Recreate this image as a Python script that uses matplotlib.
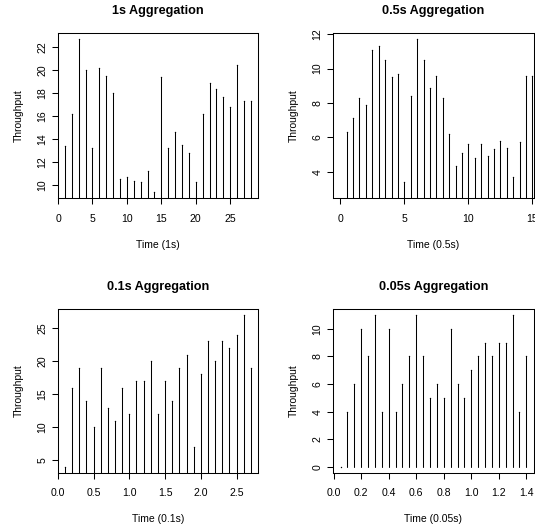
import numpy as np
import matplotlib
matplotlib.use('Agg')
import matplotlib.pyplot as plt

plt.rcParams['font.family'] = ['Liberation Sans', 'DejaVu Sans']

# ---- data ----
t1 = np.arange(1, 29)
v1 = [13.4, 16.2, 22.7, 20.0, 13.2, 20.2, 19.5, 18.0, 10.5, 10.7, 10.4, 10.3,
      11.2, 9.4, 19.4, 13.2, 14.6, 13.5, 12.8, 10.3, 16.2, 18.9, 18.4, 17.7,
      16.8, 20.5, 17.3, 17.3]

t2 = np.arange(1, 31) * 0.5
v2 = [6.3, 7.1, 8.3, 7.9, 11.1, 11.3, 10.5, 9.5, 9.7, 3.4, 8.4, 11.7, 10.5,
      8.9, 9.6, 8.3, 6.2, 4.3, 5.1, 5.6, 4.8, 5.6, 4.9, 5.3, 5.8, 5.4, 3.7,
      5.7, 9.6, 9.6]

t3 = np.arange(1, 28) * 0.1
v3 = [4, 16, 19, 14, 10, 19, 13, 11, 16, 12, 17, 17, 20, 12, 17, 14, 19, 21,
      7, 18, 23, 20, 23, 22, 24, 27, 19]

t4 = np.arange(1, 29) * 0.05
v4 = [0, 4, 6, 10, 8, 11, 4, 10, 4, 6, 8, 11, 8, 5, 6, 5, 10, 6, 5, 7, 8, 9,
      8, 9, 9, 11, 4, 8]

titles = ['1s Aggregation', '0.5s Aggregation', '0.1s Aggregation', '0.05s Aggregation']
xlabels = ['Time (1s)', 'Time (0.5s)', 'Time (0.1s)', 'Time (0.05s)']
xticks = [[0, 5, 10, 15, 20, 25], [0, 5, 10, 15],
          [0.0, 0.5, 1.0, 1.5, 2.0, 2.5], [0.0, 0.2, 0.4, 0.6, 0.8, 1.0, 1.2, 1.4]]
xticklabels = [['0', '5', '10', '15', '20', '25'], ['0', '5', '10', '15'],
               ['0.0', '0.5', '1.0', '1.5', '2.0', '2.5'],
               ['0.0', '0.2', '0.4', '0.6', '0.8', '1.0', '1.2', '1.4']]
yticks = [[10, 12, 14, 16, 18, 20, 22], [4, 6, 8, 10, 12],
          [5, 10, 15, 20, 25], [0, 2, 4, 6, 8, 10]]

W, H = 535, 526
fig = plt.figure(figsize=(W / 100, H / 100), dpi=100)

# axes boxes in pixels: left, right, top, bottom
boxes = [(57.5, 258.3, 33.3, 198.2),
         (333.1, 533.8, 33.3, 198.2),
         (57.5, 258.3, 309.0, 473.0),
         (333.1, 533.8, 309.0, 473.0)]


def rlim(vals):
    lo, hi = min(vals), max(vals)
    r = hi - lo
    return lo - 0.04 * r, hi + 0.04 * r


series = [(t1, v1), (t2, v2), (t3, v3), (t4, v4)]
xlims = [rlim(t1), (-0.56, 15.11), rlim(t3), rlim(t4)]
ylims = [rlim(v1), (2.45, 12.06), rlim(v3), rlim(v4)]

lw = 0.75
for i, ((t, v), (l, r, tp, b)) in enumerate(zip(series, boxes)):
    ax = fig.add_axes([l / W, 1 - b / H, (r - l) / W, (b - tp) / H])
    ax.vlines(t, 0, v, colors='black', linewidth=lw, capstyle='round')
    # round line ends (R type="h"), visible as a dot for zero-height values
    ax.plot(t, v, linestyle='none', marker='o', markersize=1.0,
            markeredgewidth=0, color='black')
    ax.set_xlim(*xlims[i])
    ax.set_ylim(*ylims[i])
    for s in ax.spines.values():
        s.set_linewidth(lw)
        s.set_color('black')
    ax.set_xticks(xticks[i])
    ax.set_xticklabels(xticklabels[i])
    ax.set_yticks(yticks[i])
    ax.set_yticklabels([str(y) for y in yticks[i]])
    ax.tick_params(direction='out', length=4.3, width=lw, labelsize=7.6,
                   colors='black')
    ax.tick_params(axis='x', pad=6.8)
    ax.tick_params(axis='y', pad=3.2, labelrotation=90)
    for lab in ax.get_yticklabels():
        lab.set_va('center')
    hpx = b - tp
    wpx = r - l
    ax.set_xlabel(xlabels[i], fontsize=7.5)
    ax.xaxis.set_label_coords(0.5, -46.5 / hpx)
    ax.xaxis.label.set_va('center')
    ax.set_ylabel('Throughput', fontsize=7.5)
    ax.yaxis.set_label_coords(-39 / wpx, 0.5)
    ax.yaxis.label.set_va('center')
    ax.text(0.5, 1 + 22.0 / hpx, titles[i], transform=ax.transAxes,
            ha='center', va='center', fontsize=9.1, fontweight='bold')

fig.savefig('out.png', dpi=100)
